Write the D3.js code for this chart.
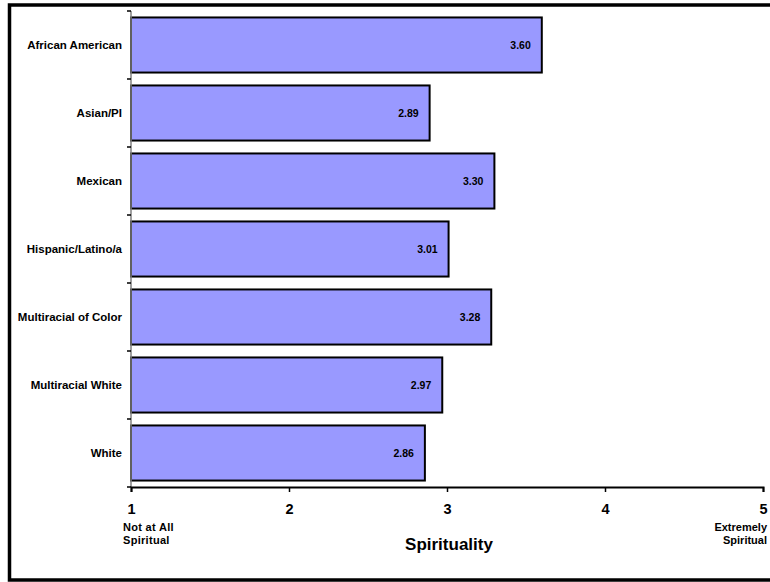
<!DOCTYPE html>
<html>
<head>
<meta charset="utf-8">
<script src="https://cdn.jsdelivr.net/npm/d3@7"></script>
<style>
  html, body { margin: 0; padding: 0; background: #fff; overflow: hidden; }
  svg { display: block; font-family: "Liberation Sans", Arial, sans-serif; }
</style>
</head>
<body>
<svg id="chart" width="770" height="582"></svg>
<script>
// Mean spirituality score by group (1 = Not at All Spiritual, 5 = Extremely Spiritual)
const categories = ["African American", "Asian/PI", "Mexican", "Hispanic/Latino/a",
                    "Multiracial of Color", "Multiracial White", "White"];
const values = [3.60, 2.89, 3.30, 3.01, 3.28, 2.97, 2.86];
const xTicks = [1, 2, 3, 4, 5];
const xTitle = "Spirituality";
const lowAnchor = ["Not at All", "Spiritual"];
const highAnchor = ["Extremely", "Spiritual"];

const svg = d3.select("#chart");

// outer frame: top, left and bottom edges (right edge runs off the canvas)
svg.append("path")
  .attr("d", "M770,5 H9.5 V580 H770")
  .attr("fill", "none").attr("stroke", "#000")
  .attr("stroke-width", 3.5);

const x = d3.scaleLinear().domain([1, 5]).range([131, 763]);
const y = d3.scaleBand().domain(categories).range([11, 487])
  .paddingInner(0.19).paddingOuter(0.095);

const step = y.step();
const gap = step * 0.19 / 2;

// bars
svg.append("g").selectAll("rect")
  .data(categories)
  .join("rect")
  .attr("x", x(1))
  .attr("y", d => y(d))
  .attr("width", (d, i) => x(values[i]) - x(1))
  .attr("height", y.bandwidth())
  .attr("fill", "#9999FF")
  .attr("stroke", "#000")
  .attr("stroke-width", 2);

// value labels inside bar ends
svg.append("g").selectAll("text")
  .data(categories)
  .join("text")
  .attr("x", (d, i) => x(values[i]) - 11)
  .attr("y", d => y(d) + y.bandwidth() / 2)
  .attr("dy", "0.35em")
  .attr("text-anchor", "end")
  .attr("font-size", 10.5)
  .attr("font-weight", "bold")
  .attr("fill", "#000")
  .text((d, i) => values[i].toFixed(2));

// category axis: grey spine with black tick marks between groups
const yAxis = svg.append("g");
yAxis.append("line")
  .attr("x1", x(1)).attr("x2", x(1))
  .attr("y1", y.range()[0]).attr("y2", y.range()[1])
  .attr("stroke", "#808080").attr("stroke-width", 1.5);
const bounds = categories.map(c => y(c) - gap).concat([y.range()[1]]);
yAxis.selectAll("line.tick")
  .data(bounds)
  .join("line")
  .attr("class", "tick")
  .attr("x1", x(1) - 4).attr("x2", x(1))
  .attr("y1", d => d).attr("y2", d => d)
  .attr("stroke", "#000").attr("stroke-width", 1.5);
yAxis.selectAll("text")
  .data(categories)
  .join("text")
  .attr("x", 122)
  .attr("y", d => y(d) + y.bandwidth() / 2)
  .attr("dy", "0.35em")
  .attr("text-anchor", "end")
  .attr("font-size", 11.5)
  .attr("font-weight", "bold")
  .attr("fill", "#000")
  .text(d => d);

// value axis
const xAxis = svg.append("g")
  .attr("transform", `translate(0,${y.range()[1]})`)
  .call(d3.axisBottom(x).tickValues(xTicks).tickSize(5).tickFormat(d3.format("d")));
xAxis.select(".domain").attr("stroke", "#000").attr("stroke-width", 2);
xAxis.selectAll(".tick line").attr("stroke", "#000").attr("stroke-width", 1.5);
xAxis.selectAll(".tick text")
  .attr("y", 27).attr("dy", null)
  .attr("font-size", 14.5).attr("font-weight", "bold")
  .attr("font-family", "Liberation Sans, Arial, sans-serif")
  .attr("fill", "#000");

// anchor captions at the ends of the scale
svg.append("text")
  .attr("x", 123).attr("y", 530.5)
  .attr("font-size", 11).attr("font-weight", "bold")
  .attr("letter-spacing", 0.3)
  .selectAll("tspan").data(lowAnchor).join("tspan")
  .attr("x", 123).attr("dy", (d, i) => i ? 13.5 : 0)
  .text(d => d);
svg.append("text")
  .attr("x", 767).attr("y", 530.5)
  .attr("font-size", 11).attr("font-weight", "bold")
  .attr("text-anchor", "end")
  .selectAll("tspan").data(highAnchor).join("tspan")
  .attr("x", 767).attr("dy", (d, i) => i ? 13.5 : 0)
  .text(d => d);

// axis title
svg.append("text")
  .attr("x", (x.range()[0] + x.range()[1]) / 2 + 2)
  .attr("y", 550)
  .attr("text-anchor", "middle")
  .attr("font-size", 17).attr("font-weight", "bold")
  .text(xTitle);
</script>
</body>
</html>
